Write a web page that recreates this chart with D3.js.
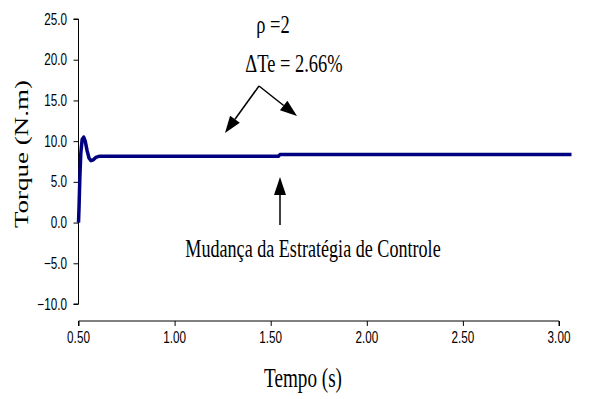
<!DOCTYPE html>
<html>
<head>
<meta charset="utf-8">
<script src="https://cdn.jsdelivr.net/npm/d3@7"></script>
<style>
body { margin: 0; background: #fff; }
svg { display: block; }
</style>
</head>
<body>
<svg id="chart" width="596" height="399"></svg>
<script>
// torque response
var tempo  = [0.500, 0.503, 0.507, 0.512, 0.519, 0.527, 0.535, 0.545, 0.555, 0.565, 0.577, 0.590, 0.610, 1.000, 1.540, 1.548, 2.000, 2.500, 3.000, 3.065];
var torque = [0.0,   2.0,   5.5,   8.5,   10.2,  10.5,  10.0,  8.8,   7.9,   7.6,   7.7,   8.0,   8.15,  8.15,  8.15,  8.35,  8.35,  8.35,  8.35,  8.35];
var xTicks = [0.5, 1.0, 1.5, 2.0, 2.5, 3.0];
var yTicks = [-10, -5, 0, 5, 10, 15, 20, 25];

var SX = 0.71; // picture is squeezed sideways

var svg = d3.select("#chart");

var x = d3.scaleLinear().domain([0.5, 3.0]).range([78.5, 559]);
var y = d3.scaleLinear().domain([-10, 25]).range([304, 19]);

// text squeezed horizontally, like the original
function label(txt, px, py, size, family, anchor, rot) {
    var g = svg.append("g")
        .attr("transform", "translate(" + px + "," + py + ") scale(" + SX + ",1)" + (rot ? " rotate(" + rot + ")" : ""));
    g.append("text")
        .attr("text-anchor", anchor || "middle")
        .attr("font-family", family)
        .attr("font-size", size)
        .attr("fill", "#000")
        .text(txt);
    return g;
}

// y axis
var yAxis = svg.append("g")
    .attr("transform", "translate(78.5,0)")
    .call(d3.axisLeft(y).tickValues(yTicks).tickSize(5).tickFormat(""));
yAxis.select(".domain").attr("d", "M-5," + y(25) + "H0V" + y(-10) + "H-5");

yTicks.forEach(function(v) {
    label(d3.format(".1f")(v), 67, y(v) + 5.5, 16.5, "Liberation Sans, Arial, sans-serif", "end");
});

// x axis
var xAxis = svg.append("g")
    .attr("transform", "translate(0,321)")
    .call(d3.axisBottom(x).tickValues(xTicks).tickSize(5).tickFormat(""));
xAxis.select(".domain").attr("d", "M" + x(0.5) + ",5V0H" + x(3.0) + "V5");

xTicks.forEach(function(v) {
    label(d3.format(".2f")(v), x(v), 343, 16.5, "Liberation Sans, Arial, sans-serif", "middle");
});

svg.selectAll(".domain, .tick line").attr("stroke", "#000").attr("stroke-width", 1);

// series
var line = d3.line()
    .x(function(d, i) { return x(tempo[i]); })
    .y(function(d) { return y(d); });

svg.append("path")
    .datum(torque)
    .attr("d", line)
    .attr("fill", "none")
    .attr("stroke", "#000080")
    .attr("stroke-width", 3.5)
    .attr("stroke-linejoin", "round");

// axis titles
label("Tempo (s)", 303, 387, 27, "Liberation Serif, Times New Roman, serif", "middle");
label("Torque (N.m)", 27.5, 154, 27, "Liberation Serif, Times New Roman, serif", "middle", -90);

// annotations
label("\u03c1 =2", 273, 33, 26, "Liberation Serif, Times New Roman, serif", "middle");
label("\u0394Te = 2.66%", 294, 72, 26, "Liberation Serif, Times New Roman, serif", "middle");
label("Mudan\u00e7a da Estrat\u00e9gia de Controle", 313, 257, 25.5, "Liberation Serif, Times New Roman, serif", "middle");

function arrow(x1, y1, x2, y2, size) {
    var ang = Math.atan2(y2 - y1, x2 - x1);
    var len = size || 14, w = 6;
    var bx = x2 - len * Math.cos(ang), by = y2 - len * Math.sin(ang);
    svg.append("line")
        .attr("x1", x1).attr("y1", y1).attr("x2", bx).attr("y2", by)
        .attr("stroke", "#000").attr("stroke-width", 1.5);
    var px = -Math.sin(ang) * w, py = Math.cos(ang) * w;
    svg.append("path")
        .attr("d", "M" + x2 + "," + y2 + "L" + (bx + px) + "," + (by + py) + "L" + (bx - px) + "," + (by - py) + "Z")
        .attr("fill", "#000");
}

arrow(259, 86, 225, 133, 17);
arrow(259, 86, 297, 116, 17);
arrow(280, 225, 280, 177, 18);
</script>
</body>
</html>
